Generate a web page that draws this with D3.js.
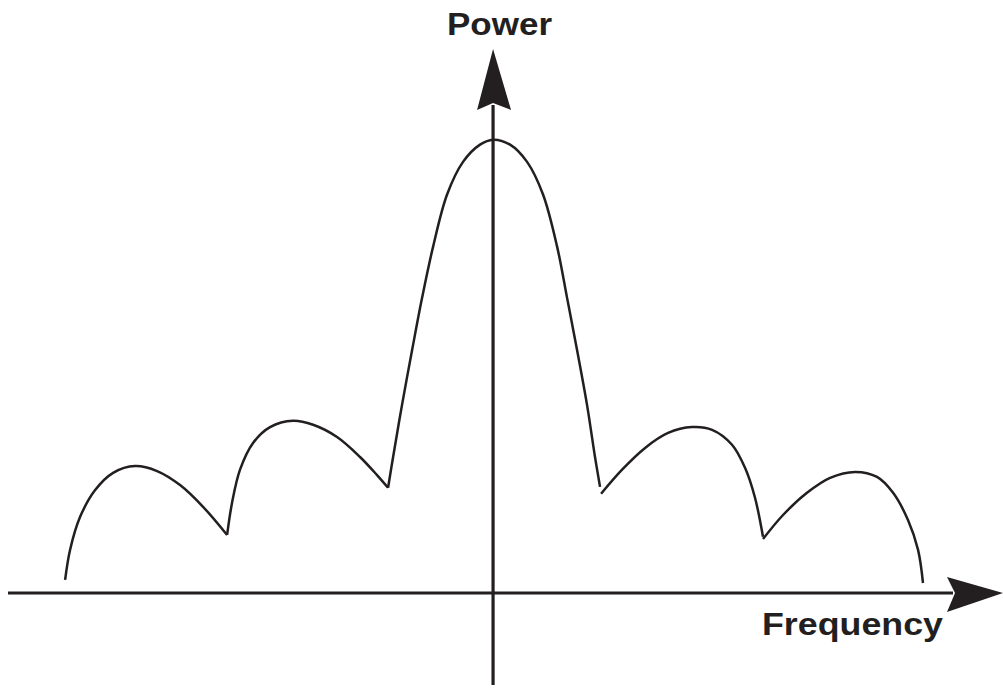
<!DOCTYPE html>
<html>
<head>
<meta charset="utf-8">
<script src="https://cdn.jsdelivr.net/npm/d3@7"></script>
<style>
  html, body { margin: 0; padding: 0; background: #fff; }
  svg { display: block; }
</style>
</head>
<body>
<svg id="chart" width="1003" height="688"></svg>
<script>
// Power spectrum sketch: main lobe plus two side lobes on each side.
// Frequency is in units of the first null; power is relative to the peak.
const lobeLeftOuter = [
  [-4.076, 0.029], [-4.029, 0.095], [-3.933, 0.168], [-3.790, 0.227],
  [-3.619, 0.265], [-3.410, 0.280], [-3.200, 0.269], [-2.981, 0.238],
  [-2.762, 0.190], [-2.533, 0.128]
];
const lobeLeftInner = [
  [-2.533, 0.128], [-2.486, 0.199], [-2.410, 0.272], [-2.286, 0.331],
  [-2.124, 0.366], [-1.905, 0.380], [-1.714, 0.371], [-1.486, 0.344],
  [-1.267, 0.300], [-1.105, 0.260], [-1.000, 0.232]
];
const lobeMain = [
  [-1.000, 0.232], [-0.952, 0.300], [-0.867, 0.415], [-0.771, 0.536],
  [-0.676, 0.651], [-0.571, 0.764], [-0.438, 0.879], [-0.286, 0.951],
  [-0.124, 0.989], [0.000, 1.000], [0.162, 0.989], [0.324, 0.951],
  [0.476, 0.879], [0.610, 0.764], [0.705, 0.651], [0.800, 0.536],
  [0.895, 0.415], [0.971, 0.300], [1.019, 0.234]
];
const lobeRightInner = [
  [1.029, 0.219], [1.229, 0.272], [1.448, 0.320], [1.667, 0.353],
  [1.895, 0.366], [2.086, 0.360], [2.276, 0.327], [2.400, 0.276],
  [2.495, 0.210], [2.571, 0.124]
];
const lobeRightOuter = [
  [2.571, 0.119], [2.762, 0.172], [2.990, 0.221], [3.210, 0.254],
  [3.448, 0.267], [3.657, 0.256], [3.810, 0.221], [3.952, 0.161],
  [4.048, 0.095], [4.095, 0.022]
];
const lobes = [lobeLeftOuter, lobeLeftInner, lobeMain, lobeRightInner, lobeRightOuter];

const axisLabels = { x: "Frequency", y: "Power" };
const freqExtent = [-4.62, 4.857];   // horizontal axis from left end to arrow tip
const powerExtent = [-0.203, 1.2];   // vertical axis from bottom end to arrow tip

const ink = "#231f20";
const svg = d3.select("#chart");

const x = d3.scaleLinear().domain(freqExtent).range([8, 1003]);
const y = d3.scaleLinear().domain(powerExtent).range([685, 49]);

// Axes
const x0 = x(0), y0 = y(0);
svg.append("line")
  .attr("x1", x(freqExtent[0])).attr("x2", x(freqExtent[1]) - 50)
  .attr("y1", y0).attr("y2", y0)
  .attr("stroke", ink).attr("stroke-width", 3.2);
svg.append("line")
  .attr("x1", x0).attr("x2", x0)
  .attr("y1", y(powerExtent[0])).attr("y2", y(powerExtent[1]) + 56)
  .attr("stroke", ink).attr("stroke-width", 3.2);

// Arrowheads with a notched back
const tipX = x(freqExtent[1]);
svg.append("path")
  .attr("d", `M${tipX},${y0} L${tipX - 56},${y0 - 16} L${tipX - 48},${y0} L${tipX - 56},${y0 + 19} Z`)
  .attr("fill", ink);
const tipY = y(powerExtent[1]);
svg.append("path")
  .attr("d", `M${x0},${tipY} L${x0 + 18},${tipY + 61} L${x0},${tipY + 54} L${x0 - 16},${tipY + 61} Z`)
  .attr("fill", ink);

// Spectrum lobes
const line = d3.line()
  .x(d => x(d[0]))
  .y(d => y(d[1]))
  .curve(d3.curveCatmullRom.alpha(0.5));

svg.append("g")
  .selectAll("path")
  .data(lobes)
  .join("path")
  .attr("d", line)
  .attr("fill", "none")
  .attr("stroke", ink)
  .attr("stroke-width", 2.5)
  .attr("stroke-linejoin", "round");

// Axis titles
svg.append("text")
  .attr("x", 447).attr("y", 35)
  .attr("font-family", "Liberation Sans, Arial, sans-serif")
  .attr("font-weight", "bold")
  .attr("font-size", 31)
  .attr("textLength", 105)
  .attr("lengthAdjust", "spacingAndGlyphs")
  .attr("fill", ink)
  .text(axisLabels.y);

svg.append("text")
  .attr("x", 762).attr("y", 635)
  .attr("font-family", "Liberation Sans, Arial, sans-serif")
  .attr("font-weight", "bold")
  .attr("font-size", 31)
  .attr("textLength", 181)
  .attr("lengthAdjust", "spacingAndGlyphs")
  .attr("fill", ink)
  .text(axisLabels.x);
</script>
</body>
</html>
